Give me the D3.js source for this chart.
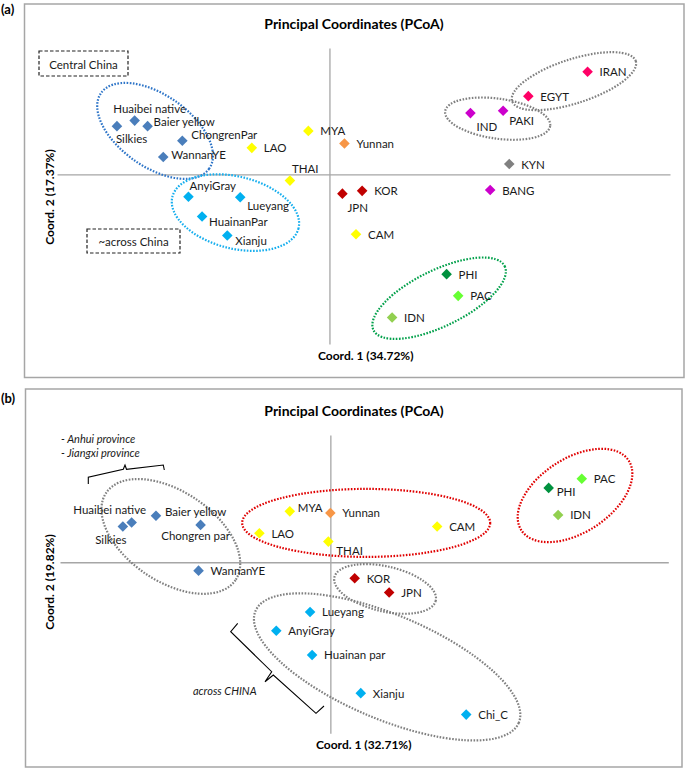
<!DOCTYPE html>
<html><head><meta charset="utf-8">
<script src="https://cdn.jsdelivr.net/npm/d3@7"></script>
<style>
body{margin:0;background:#fff}
svg{display:block}
text{font-family:Lato,"Open Sans",sans-serif}
</style>
</head><body>
<svg id="c" width="685" height="769"></svg>
<script>
// ---------------- DATA ----------------
// Panel (a)
const namesA = ["Silkies","Huaibei native","Baier yellow","ChongrenPar","WannanYE",
  "AnyiGray","Lueyang","HuainanPar","Xianju",
  "LAO","MYA","THAI","CAM","Yunnan","JPN","KOR",
  "IRAN","EGYT","IND","PAKI","BANG","KYN","PHI","PAC","IDN"];
const coord1A = [-0.312,-0.286,-0.267,-0.216,-0.244,
  -0.207,-0.131,-0.187,-0.150,
  -0.114,-0.031,-0.058,0.039,0.022,0.019,0.048,
  0.379,0.292,0.207,0.255,0.236,0.264,0.172,0.189,0.092];
const coord2A = [0.122,0.136,0.122,0.085,0.044,
  -0.057,-0.058,-0.107,-0.155,
  0.067,0.110,-0.016,-0.152,0.078,-0.049,-0.042,
  0.260,0.198,0.155,0.161,-0.040,0.026,-0.253,-0.308,-0.363];
const groupA = ["central","central","central","central","central",
  "across","across","across","across",
  "sea","sea","sea","sea","yunnan","ea","ea",
  "wa","wa","sa","sa","sa","kyn","phi","pac","idn"];
const axisTitlesA = ["Coord. 1 (34.72%)","Coord. 2 (17.37%)"];

// Panel (b)
const namesB = ["Silkies","Huaibei native","Baier yellow","Chongren par","WannanYE",
  "Lueyang","AnyiGray","Huainan par","Xianju","Chi_C",
  "LAO","MYA","THAI","CAM","Yunnan","KOR","JPN","PHI","PAC","IDN"];
const coord1B = [-0.307,-0.294,-0.258,-0.192,-0.195,
  -0.030,-0.080,-0.027,0.045,0.201,
  -0.105,-0.060,-0.003,0.158,0.000,0.036,0.087,0.323,0.372,0.337];
const coord2B = [0.090,0.100,0.117,0.094,-0.021,
  -0.125,-0.172,-0.233,-0.329,-0.383,
  0.073,0.128,0.052,0.090,0.124,-0.040,-0.076,0.187,0.210,0.119];
const groupB = ["central","central","central","central","central",
  "across","across","across","across","across",
  "sea","sea","sea","sea","yunnan","ea","ea","phi","pac","idn"];
const axisTitlesB = ["Coord. 1 (32.71%)","Coord. 2 (19.82%)"];

const chartTitle = "Principal Coordinates (PCoA)";

// ---------------- STYLE / LAYOUT ----------------
const groupColor = {
  central:"#4A7EBB", across:"#00B0F0", sea:"#FFFF00", yunnan:"#F79646",
  ea:"#C00000", wa:"#FF0066", sa:"#CC00CC", kyn:"#808080",
  phi:"#00913F", pac:"#66FF33", idn:"#92D050"
};

// label offsets [dx, dy, anchor]; default = right of marker
const labelPosA = {
  "Silkies":[-1,12,"start"], "Huaibei native":[15,-12,"middle"], "Baier yellow":[6,-5,"start"],
  "ChongrenPar":[9,-6,"start"], "WannanYE":[8,-2,"start"], "THAI":[2,-12,"start"],
  "JPN":[5,14,"start"], "AnyiGray":[1,-11,"start"], "Lueyang":[7,8,"start"],
  "HuainanPar":[7,5,"start"], "Xianju":[8,5,"start"], "IND":[6,13,"start"], "PAKI":[6,10,"start"]
};
const labelPosB = {
  "Silkies":[-12,13,"middle"], "Huaibei native":[-22,-13,"middle"], "Baier yellow":[9,-4,"start"],
  "Chongren par":[-5,11,"middle"], "MYA":[8,-4,"start"], "THAI":[8,9,"start"], "PHI":[8,4,"start"]
};

const ellipsesA = [
  {cx:-0.256, cy:0.110, rx:66, ry:36, rot:35, color:"#2E75C8"},
  {cx:-0.138, cy:-0.097, rx:65, ry:36, rot:14, color:"#16AEEE"},
  {cx:0.359, cy:0.236, rx:65, ry:22, rot:-18, color:"#808080"},
  {cx:0.247, cy:0.141, rx:53, ry:20, rot:8, color:"#808080"},
  {cx:0.161, cy:-0.314, rx:73, ry:28, rot:-26, color:"#00A04A"}
];
const ellipsesB = [
  {cx:-0.236, cy:0.065, rx:78, ry:45, rot:34, color:"#808080"},
  {cx:0.053, cy:0.099, rx:124, ry:34, rot:0, color:"#E00000"},
  {cx:0.362, cy:0.168, rx:64, ry:37, rot:-33, color:"#E00000"},
  {cx:0.081, cy:-0.067, rx:52, ry:22.5, rot:13, color:"#808080"},
  {cx:0.084, cy:-0.263, rx:143, ry:52, rot:23, color:"#808080"}
];

const panels = [
  {tag:"(a)", tagY:9, frame:[24.5,4,684,377.5], titleY:23,
   xr:[57,670], yr:[344,48], xt:[318,355], yt:[49,197],
   names:namesA, c1:coord1A, c2:coord2A, grp:groupA, lp:labelPosA, ell:ellipsesA, titles:axisTitlesA},
  {tag:"(b)", tagY:398, frame:[25.5,389,682,767], titleY:410,
   xr:[60,668.3], yr:[733.3,435], xt:[316,744], yt:[49,582],
   names:namesB, c1:coord1B, c2:coord2B, grp:groupB, lp:labelPosB, ell:ellipsesB, titles:axisTitlesB}
];

const svg = d3.select("#c");
const diamond = d3.symbol(d3.symbolSquare, 56);

panels.forEach(p => {
  const g = svg.append("g");
  const [fx0,fy0,fx1,fy1] = p.frame;
  g.append("rect").attr("x",fx0).attr("y",fy0).attr("width",fx1-fx0).attr("height",fy1-fy0)
    .attr("fill","#fff").attr("stroke","#A6A6A6").attr("stroke-width",1.5);
  g.append("text").attr("x",1).attr("y",p.tagY).attr("dominant-baseline","central")
    .attr("font-weight","bold").attr("font-size",13).attr("fill","#000").text(p.tag);
  g.append("text").attr("x",354).attr("y",p.titleY).attr("text-anchor","middle")
    .attr("dominant-baseline","central").attr("font-weight","bold").attr("font-size",14)
    .attr("fill","#000").text(chartTitle);

  const x = d3.scaleLinear().domain([-0.4,0.5]).range(p.xr);
  const y = d3.scaleLinear().domain([-0.43,0.32]).range(p.yr);

  const ax = g.append("g").attr("transform",`translate(0,${y(0)})`)
    .call(d3.axisBottom(x).tickValues([]).tickSizeOuter(0));
  const ay = g.append("g").attr("transform",`translate(${x(0)},0)`)
    .call(d3.axisLeft(y).tickValues([]).tickSizeOuter(0));
  [ax,ay].forEach(a => a.select(".domain").attr("stroke","#A6A6A6").attr("stroke-width",1.3));

  g.append("text").attr("x",p.xt[0]).attr("y",p.xt[1]).attr("dominant-baseline","central")
    .attr("font-weight","bold").attr("font-size",12).attr("fill","#000").text(p.titles[0]);
  g.append("text").attr("transform",`translate(${p.yt[0]},${p.yt[1]}) rotate(-90)`)
    .attr("text-anchor","middle").attr("dominant-baseline","central")
    .attr("font-weight","bold").attr("font-size",12).attr("fill","#000").text(p.titles[1]);

  // ellipses
  g.selectAll("ellipse.grp").data(p.ell).join("ellipse")
    .attr("transform",d=>`translate(${x(d.cx)},${y(d.cy)}) rotate(${d.rot})`)
    .attr("rx",d=>d.rx).attr("ry",d=>d.ry).attr("fill","none")
    .attr("stroke",d=>d.color).attr("stroke-width",2.2).attr("stroke-dasharray","1.6 1.5");

  const idx = d3.range(p.names.length);
  g.selectAll("path.pt").data(idx).join("path").attr("class","pt")
    .attr("d",diamond)
    .attr("transform",i=>`translate(${x(p.c1[i])},${y(p.c2[i])}) rotate(45)`)
    .attr("fill",i=>groupColor[p.grp[i]]);

  g.selectAll("text.lbl").data(idx).join("text").attr("class","lbl")
    .each(function(i){
      const o = p.lp[p.names[i]] || [12,0,"start"];
      d3.select(this).attr("x",x(p.c1[i])+o[0]).attr("y",y(p.c2[i])+o[1])
        .attr("text-anchor",o[2]);
    })
    .attr("dominant-baseline","central").attr("font-size",11.5).attr("fill","#1a1a1a")
    .text(i=>p.names[i]);
});

// ---------- annotations ----------
const boxes = [{x:39,y:51,w:89,h:25,t:"Central China"},{x:87,y:229,w:93,h:24,t:"~across China"}];
boxes.forEach(b=>{
  svg.append("rect").attr("x",b.x).attr("y",b.y).attr("width",b.w).attr("height",b.h)
    .attr("fill","#fff").attr("stroke","#222").attr("stroke-width",1.2).attr("stroke-dasharray","3.5 2");
  svg.append("text").attr("x",b.x+b.w/2).attr("y",b.y+b.h/2+0.5).attr("text-anchor","middle")
    .attr("dominant-baseline","central").attr("font-size",11.5).attr("fill","#1a1a1a").text(b.t);
});
const brackets = [
  "M88.3,484 L88.3,477.3 L123.3,469.3 L125,465 L126.5,469.3 L163.3,465 L164.3,470",
  "M237.7,623.3 L230.7,631.7 L271.7,671.7 L265,681.7 L273.3,675 L316,713.3 L324,706"
];
svg.selectAll("path.br").data(brackets).join("path").attr("class","br").attr("d",d=>d)
  .attr("fill","none").attr("stroke","#000").attr("stroke-width",1.1);
const notes = [{x:61,y:438.5,t:"- Anhui province"},{x:61,y:452.5,t:"- Jiangxi province"},{x:193,y:690,t:"across CHINA"}];
svg.selectAll("text.note").data(notes).join("text").attr("class","note")
  .attr("x",d=>d.x).attr("y",d=>d.y).attr("dominant-baseline","central")
  .attr("font-size",11).attr("font-style","italic").attr("fill","#1a1a1a").text(d=>d.t);
</script>
</body></html>
